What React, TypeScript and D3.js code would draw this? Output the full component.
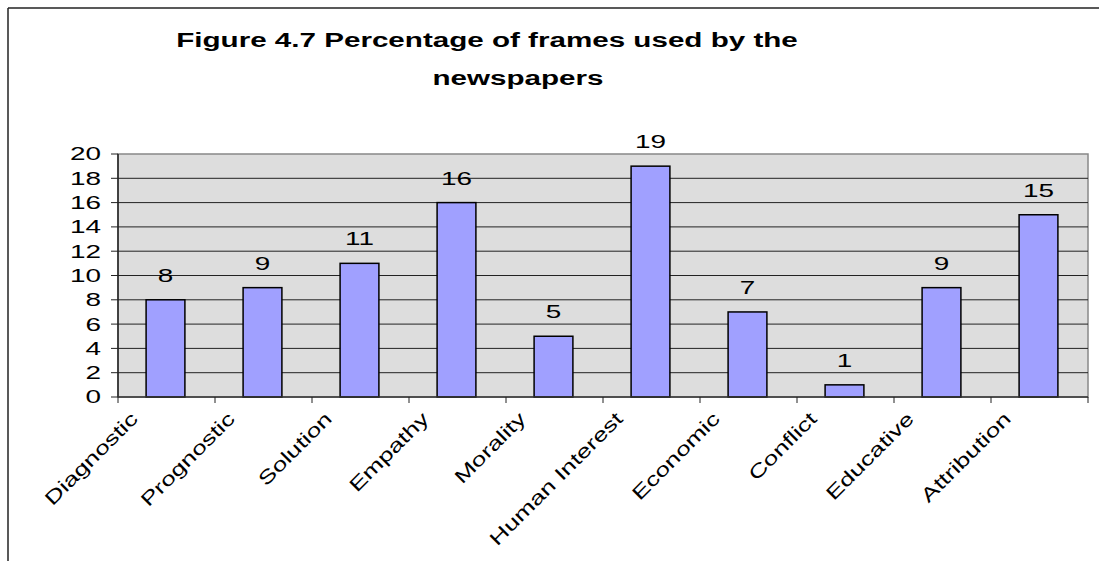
import { scaleBand, scaleLinear, range } from "d3";

const categories = [
  "Diagnostic",
  "Prognostic",
  "Solution",
  "Empathy",
  "Morality",
  "Human Interest",
  "Economic",
  "Conflict",
  "Educative",
  "Attribution",
];
const values = [8, 9, 11, 16, 5, 19, 7, 1, 9, 15];
const yTicks = range(0, 21, 2);
const titleLines = ["Figure 4.7 Percentage of frames used by the", "newspapers"];

const App = () => {
  const width = 1099;
  const height = 561;
  const plot = { left: 118, right: 1088, top: 154, bottom: 397 };
  const font = "'Liberation Sans', Arial, sans-serif";
  const sx = 1.55;

  const xScale = scaleBand()
    .domain(categories)
    .range([plot.left, plot.right])
    .padding(0);
  const yScale = scaleLinear().domain([0, 20]).range([plot.bottom, plot.top]);
  const barW = xScale.bandwidth() * 0.4;

  return (
    <svg
      width={width}
      height={height}
      style={{ position: "absolute", left: 0, top: 0, background: "#fff" }}
    >
      {/* outer chart frame, cut by the window */}
      <line x1={8} y1={8} x2={width} y2={8} stroke="#222" strokeWidth={1.5} />
      <line x1={8} y1={8} x2={8} y2={height} stroke="#222" strokeWidth={1.5} />

      {/* title */}
      <g fontFamily={font} fontWeight="bold" fontSize={20} fill="#000">
        <text transform={`translate(487, 47) scale(1.48,1)`} textAnchor="middle">
          {titleLines[0]}
        </text>
        <text transform={`translate(518, 85) scale(1.48,1)`} textAnchor="middle">
          {titleLines[1]}
        </text>
      </g>

      {/* plot area */}
      <rect
        x={plot.left}
        y={plot.top}
        width={plot.right - plot.left}
        height={plot.bottom - plot.top}
        fill="#DDDDDD"
        stroke="#888"
        strokeWidth={1.5}
      />
      {yTicks
        .filter((t) => t > 0 && t < 20)
        .map((t) => (
          <line
            key={t}
            x1={plot.left}
            x2={plot.right}
            y1={yScale(t)}
            y2={yScale(t)}
            stroke="#222"
            strokeWidth={1}
          />
        ))}

      {/* bars */}
      {values.map((v, i) => {
        const cx = xScale(categories[i]) + xScale.bandwidth() / 2 - 1;
        return (
          <rect
            key={categories[i]}
            x={cx - barW / 2}
            y={yScale(v)}
            width={barW}
            height={yScale(0) - yScale(v)}
            fill="#A0A0FF"
            stroke="#000"
            strokeWidth={1.5}
          />
        );
      })}

      {/* axes */}
      <line x1={plot.left} x2={plot.left} y1={plot.top} y2={plot.bottom} stroke="#222" strokeWidth={1.5} />
      <line x1={plot.left} x2={plot.right} y1={plot.bottom} y2={plot.bottom} stroke="#333" strokeWidth={1.5} />
      {yTicks.map((t) => (
        <g key={t}>
          <line x1={plot.left - 7} x2={plot.left} y1={yScale(t)} y2={yScale(t)} stroke="#222" />
          <text
            transform={`translate(101, ${yScale(t)}) scale(${sx},1)`}
            dy="0.36em"
            textAnchor="end"
            fontFamily={font}
            fontSize={18}
          >
            {t}
          </text>
        </g>
      ))}
      {categories.concat(["end"]).map((c, i) => {
        const x = plot.left + i * xScale.step();
        return <line key={c} x1={x} x2={x} y1={plot.bottom} y2={plot.bottom + 6} stroke="#222" />;
      })}

      {/* value labels */}
      {values.map((v, i) => (
        <text
          key={categories[i]}
          transform={`translate(${xScale(categories[i]) + xScale.bandwidth() / 2 - 1}, ${yScale(v) - 18}) scale(${sx},1)`}
          textAnchor="middle"
          fontFamily={font}
          fontSize={18}
        >
          {v}
        </text>
      ))}

      {/* category labels */}
      {categories.map((c) => (
        <text
          key={c}
          transform={`translate(${xScale(c) + 21}, ${plot.bottom + 23}) rotate(-45) scale(1.38,1)`}
          textAnchor="end"
          fontFamily={font}
          fontSize={19}
        >
          {c}
        </text>
      ))}
    </svg>
  );
};

export default App;
